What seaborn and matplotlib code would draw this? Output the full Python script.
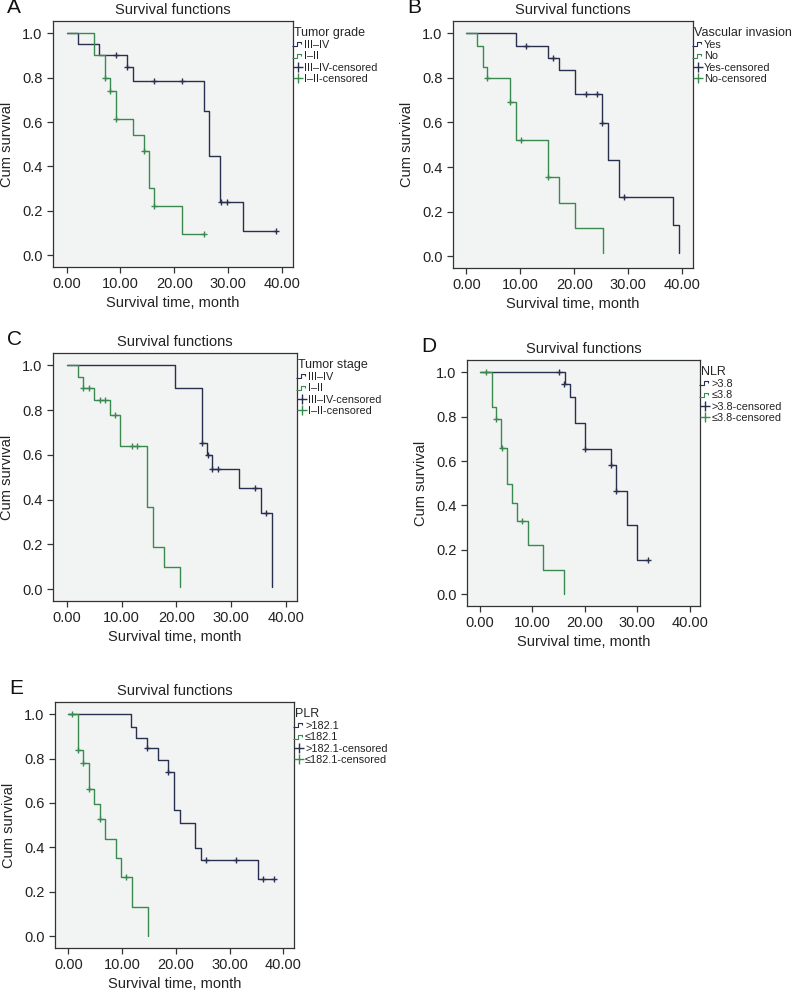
import numpy as np
import pandas as pd
import seaborn as sns
import matplotlib.pyplot as plt
from matplotlib.lines import Line2D
from matplotlib.path import Path

# ---- data (step curves: time, cumulative survival) ----
# A - Tumor grade
a_hi_t = [0, 2.05, 6.1, 11.2, 12.3, 25.4, 26.5, 28.5, 32.7, 38.8]
a_hi_s = [1.0, 0.95, 0.90, 0.846, 0.786, 0.652, 0.448, 0.242, 0.109, 0.109]
a_hi_ct = [9.2, 11.2, 16.3, 21.5, 28.7, 29.8, 38.8]
a_hi_cs = [0.90, 0.846, 0.786, 0.786, 0.242, 0.242, 0.109]
a_lo_t = [0, 5.1, 7.1, 8.1, 9.2, 12.3, 14.3, 15.3, 16.3, 21.5, 25.5]
a_lo_s = [1.0, 0.90, 0.797, 0.741, 0.613, 0.543, 0.471, 0.305, 0.221, 0.096, 0.096]
a_lo_ct = [7.1, 8.1, 9.2, 14.3, 16.3, 25.5]
a_lo_cs = [0.797, 0.741, 0.613, 0.471, 0.221, 0.096]

# B - Vascular invasion
b_yes_t = [0, 9.2, 15.2, 17.1, 20.1, 25.2, 26.25, 28.3, 38.3, 39.4]
b_yes_s = [1.0, 0.945, 0.891, 0.836, 0.729, 0.599, 0.433, 0.266, 0.14, 0.016]
b_yes_ct = [11.1, 16.1, 22.2, 24.2, 25.2, 29.2]
b_yes_cs = [0.945, 0.891, 0.729, 0.729, 0.599, 0.266]
b_no_t = [0, 2.0, 3.0, 3.9, 8.1, 9.1, 15.2, 17.1, 20.1, 25.25]
b_no_s = [1.0, 0.945, 0.847, 0.798, 0.692, 0.523, 0.354, 0.241, 0.128, 0.016]
b_no_ct = [3.9, 8.1, 10.1, 15.2]
b_no_cs = [0.798, 0.692, 0.523, 0.354]

# C - Tumor stage
c_hi_t = [0, 19.7, 24.6, 25.5, 26.5, 31.5, 35.4, 37.4]
c_hi_s = [1.0, 0.899, 0.651, 0.598, 0.538, 0.451, 0.338, 0.01]
c_hi_ct = [24.6, 25.7, 26.5, 27.5, 34.4, 36.4]
c_hi_cs = [0.651, 0.598, 0.538, 0.538, 0.451, 0.338]
c_lo_t = [0, 2.0, 2.9, 4.9, 7.9, 9.8, 14.7, 15.8, 17.7, 20.7]
c_lo_s = [1.0, 0.95, 0.90, 0.847, 0.779, 0.639, 0.368, 0.188, 0.099, 0.01]
c_lo_ct = [3.0, 4.0, 6.0, 7.0, 8.8, 11.9, 12.8]
c_lo_cs = [0.90, 0.90, 0.847, 0.847, 0.779, 0.639, 0.639]

# D - NLR
d_hi_t = [0, 16.2, 17.1, 18.05, 20.0, 25.0, 26.0, 28.1, 30.0, 32.1]
d_hi_s = [1.0, 0.948, 0.89, 0.773, 0.652, 0.58, 0.464, 0.31, 0.155, 0.155]
d_hi_ct = [15.0, 16.0, 20.0, 25.0, 26.0, 32.1]
d_hi_cs = [1.0, 0.948, 0.652, 0.58, 0.464, 0.155]
d_lo_t = [0, 2.2, 3.1, 4.0, 5.1, 6.0, 7.05, 9.1, 12.05, 16.1]
d_lo_s = [1.0, 0.843, 0.79, 0.66, 0.496, 0.413, 0.33, 0.221, 0.109, 0.0]
d_lo_ct = [1.05, 3.1, 4.1, 8.0]
d_lo_cs = [1.0, 0.79, 0.66, 0.33]

# E - PLR
e_hi_t = [0, 11.6, 12.6, 14.6, 16.6, 18.6, 19.7, 20.7, 23.6, 24.7, 35.3, 38.3]
e_hi_s = [1.0, 0.944, 0.895, 0.847, 0.794, 0.741, 0.568, 0.511, 0.398, 0.341, 0.256, 0.256]
e_hi_ct = [14.6, 18.6, 25.6, 31.2, 36.2, 38.3]
e_hi_cs = [0.847, 0.741, 0.341, 0.341, 0.256, 0.256]
e_lo_t = [0, 1.8, 2.7, 3.8, 4.7, 5.8, 6.8, 8.8, 9.8, 11.8, 14.8]
e_lo_s = [1.0, 0.838, 0.782, 0.662, 0.597, 0.529, 0.44, 0.353, 0.265, 0.132, 0.0]
e_lo_ct = [0.6, 1.8, 2.7, 3.8, 5.8, 10.7]
e_lo_cs = [1.0, 0.838, 0.782, 0.662, 0.529, 0.265]

NAVY = "#27304f"
GREEN = "#3a8a50"

sns.set_theme(style="ticks")
plt.rcParams['font.family'] = ['Liberation Sans', 'DejaVu Sans']

fig = plt.figure(figsize=(7.94, 9.99), dpi=100)

# step glyph used by the legend
step_marker = Path([(-1.0, -0.3), (-0.2, -0.3), (-0.2, 0.3), (0.6, 0.3), (0.6, 0.0)],
                   [Path.MOVETO, Path.LINETO, Path.LINETO, Path.LINETO, Path.LINETO])

panels = [
    ("A", [0.0668, 0.7327, 0.3023, 0.2462], "Tumor grade", ["III\u2013IV", "I\u2013II"],
     (a_hi_t, a_hi_s, a_hi_ct, a_hi_cs), (a_lo_t, a_lo_s, a_lo_ct, a_lo_cs)),
    ("B", [0.5705, 0.7317, 0.3023, 0.2472], "Vascular invasion", ["Yes", "No"],
     (b_yes_t, b_yes_s, b_yes_ct, b_yes_cs), (b_no_t, b_no_s, b_no_ct, b_no_cs)),
    ("C", [0.0668, 0.3984, 0.3073, 0.2482], "Tumor stage", ["III\u2013IV", "I\u2013II"],
     (c_hi_t, c_hi_s, c_hi_ct, c_hi_cs), (c_lo_t, c_lo_s, c_lo_ct, c_lo_cs)),
    ("D", [0.5882, 0.3934, 0.2935, 0.2462], "NLR", [">3.8", "\u22643.8"],
     (d_hi_t, d_hi_s, d_hi_ct, d_hi_cs), (d_lo_t, d_lo_s, d_lo_ct, d_lo_cs)),
    ("E", [0.0693, 0.0511, 0.3010, 0.2462], "PLR", [">182.1", "\u2264182.1"],
     (e_hi_t, e_hi_s, e_hi_ct, e_hi_cs), (e_lo_t, e_lo_s, e_lo_ct, e_lo_cs)),
]

for letter, rect, group, labels, hi, lo in panels:
    ax = fig.add_axes(rect)
    ax.set_facecolor("#f2f3f3")
    for (t, s, ct, cs), col in [(hi, NAVY), (lo, GREEN)]:
        sns.lineplot(x=t, y=s, ax=ax, color=col, lw=1.0, drawstyle="steps-post",
                     estimator=None, sort=False)
        sns.scatterplot(x=ct, y=cs, ax=ax, color=col, marker="+", s=16, linewidth=1.0,
                        zorder=3)
    ax.set_xlim(-2.5, 42)
    ax.set_ylim(-0.053, 1.055)
    ax.set_xticks([0, 10, 20, 30, 40])
    ax.set_xticklabels(["0.00", "10.00", "20.00", "30.00", "40.00"])
    ax.set_yticks([0, 0.2, 0.4, 0.6, 0.8, 1.0])
    ax.set_yticklabels(["0.0", "0.2", "0.4", "0.6", "0.8", "1.0"])
    ax.tick_params(labelsize=10.5, length=4, width=0.9, color="#333333", labelcolor="#222222")
    for sp in ax.spines.values():
        sp.set_color("#333333")
        sp.set_linewidth(0.9)
    ax.set_xlabel("Survival time, month", fontsize=10.5, color="#222222", labelpad=3)
    ax.set_ylabel("Cum survival", fontsize=10.5, color="#222222", labelpad=6)
    ax.set_title("Survival functions", fontsize=10.5, color="#222222", pad=5)

    handles = [
        Line2D([], [], ls="none", marker=step_marker, markersize=8, markerfacecolor="none",
               markeredgecolor=NAVY, markeredgewidth=0.8),
        Line2D([], [], ls="none", marker=step_marker, markersize=8, markerfacecolor="none",
               markeredgecolor=GREEN, markeredgewidth=0.8),
        Line2D([], [], ls="none", marker="+", markersize=7, color=NAVY, markeredgewidth=1.0),
        Line2D([], [], ls="none", marker="+", markersize=7, color=GREEN, markeredgewidth=1.0),
    ]
    names = [labels[0], labels[1], labels[0] + "-censored", labels[1] + "-censored"]
    leg = ax.legend(handles, names, title=group, loc="upper left",
                    bbox_to_anchor=(0.99, 0.99), frameon=False, fontsize=7.8,
                    title_fontsize=9, handlelength=0.8, handletextpad=0.15,
                    labelspacing=0.12, borderaxespad=0.2, borderpad=0.1)
    leg._legend_box.align = "left"
    for txt in leg.get_texts():
        txt.set_color("#222222")

    bb = ax.get_position()
    fig.text(bb.x0 - 0.058, bb.y1 + 0.004, letter, fontsize=15, color="#111111",
             ha="left", va="bottom")

fig.savefig("out.png", dpi=100)
